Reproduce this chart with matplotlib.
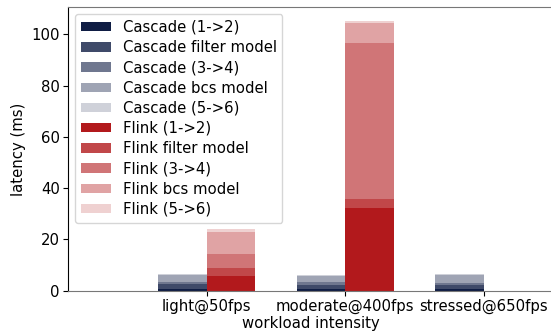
import matplotlib
matplotlib.use("Agg")
import matplotlib.pyplot as plt
import numpy as np

categories = ["light@50fps", "moderate@400fps", "stressed@650fps"]
stage_names = ["(1->2)", "filter model", "(3->4)", "bcs model", "(5->6)"]

cascade_12 = [0.5, 0.5, 0.55]
cascade_filter = [2.1, 1.8, 1.8]
cascade_34 = [0.8, 1.0, 0.8]
cascade_bcs = [2.7, 2.5, 3.0]
cascade_56 = [0.4, 0.3, 0.4]

flink_12 = [5.7, 32.4, 0.0]
flink_filter = [3.3, 3.4, 0.0]
flink_34 = [5.3, 60.9, 0.0]
flink_bcs = [8.6, 7.6, 0.0]
flink_56 = [1.1, 0.9, 0.0]

cascade_color = "#0f1d44"
flink_color = "#b2191c"
alphas = [1.0, 0.8, 0.6, 0.4, 0.2]
fs = 10.7

fig = plt.figure(figsize=(5.51, 3.35), dpi=100)
ax = fig.add_axes([68.3 / 551, 44.3 / 335, (553 - 68.3) / 551, (327.7 - 44.3) / 335])

x = np.arange(1, len(categories) + 1)
w = 0.35

def stack(series, xpos, color, prefix):
    bottom = np.zeros(len(categories))
    for vals, a, name in zip(series, alphas, stage_names):
        vals = np.array(vals)
        label = f"{prefix} {name}"
        ax.bar(xpos, vals, w, bottom=bottom, color=color, alpha=a, align="edge",
               label=label, linewidth=0)
        bottom += vals

stack([cascade_12, cascade_filter, cascade_34, cascade_bcs, cascade_56], x - w, cascade_color, "Cascade")
stack([flink_12, flink_filter, flink_34, flink_bcs, flink_56], x, flink_color, "Flink")

ax.set_xlim(0, 3.5)
ax.set_ylim(0, 110.5)
ax.set_xticks(x)
ax.set_xticklabels(categories, fontsize=fs)
ax.set_yticks([0, 20, 40, 60, 80, 100])
ax.tick_params(labelsize=fs, pad=2.5)
ax.set_xlabel("workload intensity", fontsize=fs, labelpad=1)
ax.set_ylabel("latency (ms)", fontsize=fs)

ax.spines["left"].set_color("black")
for s in ["top", "bottom", "right"]:
    ax.spines[s].set_color("#777777")

ax.legend(loc="upper left", fontsize=fs, labelspacing=0.35, borderaxespad=0.45,
          handlelength=2.0, handleheight=0.6)

fig.savefig("out.png", dpi=100)
